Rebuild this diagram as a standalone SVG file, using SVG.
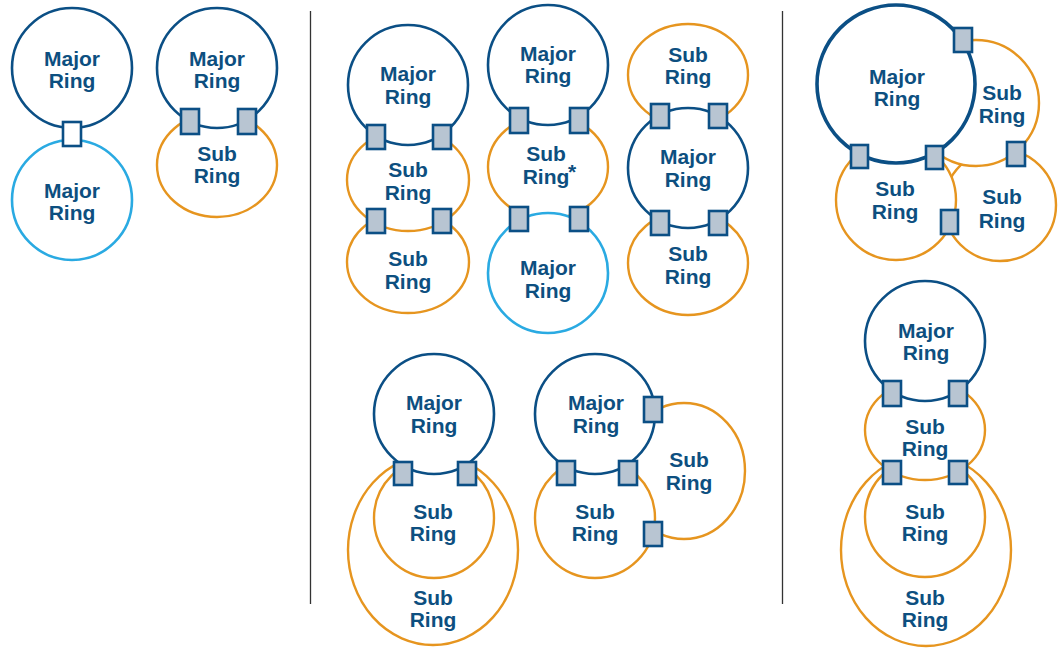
<svg xmlns="http://www.w3.org/2000/svg" width="1063" height="648" viewBox="0 0 1063 648">
<style>
.maj{fill:#fff;stroke:#0b4f85;stroke-width:2.6}
.majb{fill:#fff;stroke:#0b4f85;stroke-width:3.6}
.lt{fill:#fff;stroke:#2aaae2;stroke-width:2.6}
.sub{fill:#fff;stroke:#e6951f;stroke-width:2.4}
.port{fill:#b8c5d2;stroke:#0b4f85;stroke-width:2.6}
.port0{fill:#fff;stroke:#0b4f85;stroke-width:2.6}
.div{stroke:#333;stroke-width:1.3}
text{font-family:"Liberation Sans",Arial,Helvetica,sans-serif;font-weight:bold;font-size:21px;fill:#0d4f80;text-anchor:middle}
</style>
<rect width="1063" height="648" fill="#fff"/>
<g id="dividers">
<line class="div" x1="310.5" y1="11" x2="310.5" y2="604"/>
<line class="div" x1="782.5" y1="11" x2="782.5" y2="604"/>
</g>

<!-- Panel 1, pair A -->
<g id="p1a-major-top"><circle class="maj" cx="72" cy="68" r="60"/><text><tspan x="72" y="66">Major</tspan><tspan x="72" y="88">Ring</tspan></text></g>
<g id="p1a-major-bottom"><circle class="lt" cx="72" cy="200" r="60"/><text><tspan x="72" y="198">Major</tspan><tspan x="72" y="220">Ring</tspan></text></g>

<!-- Panel 1, pair B -->
<g id="p1b-sub"><ellipse class="sub" cx="217" cy="165" rx="60" ry="52"/><text><tspan x="217" y="161">Sub</tspan><tspan x="217" y="183">Ring</tspan></text></g>
<g id="p1b-major"><circle class="maj" cx="217" cy="68" r="60"/><text><tspan x="217" y="66">Major</tspan><tspan x="217" y="88">Ring</tspan></text></g>

<!-- Panel 2, column 1 -->
<g id="p2c1-sub2"><ellipse class="sub" cx="408" cy="262" rx="61" ry="51"/><text><tspan x="408" y="266">Sub</tspan><tspan x="408" y="289">Ring</tspan></text></g>
<g id="p2c1-sub1"><ellipse class="sub" cx="408" cy="180" rx="61" ry="51"/><text><tspan x="408" y="177">Sub</tspan><tspan x="408" y="200">Ring</tspan></text></g>
<g id="p2c1-major"><circle class="maj" cx="408" cy="85" r="60"/><text><tspan x="408" y="81">Major</tspan><tspan x="408" y="104">Ring</tspan></text></g>

<!-- Panel 2, column 2 -->
<g id="p2c2-sub"><ellipse class="sub" cx="548" cy="167" rx="60" ry="52"/><text><tspan x="546" y="161">Sub</tspan><tspan x="546" y="184">Ring</tspan><tspan x="572" y="179">*</tspan></text></g>
<g id="p2c2-major-bottom"><circle class="lt" cx="548" cy="273" r="60"/><text><tspan x="548" y="275">Major</tspan><tspan x="548" y="298">Ring</tspan></text></g>
<g id="p2c2-major-top"><circle class="maj" cx="548" cy="65" r="60"/><text><tspan x="548" y="61">Major</tspan><tspan x="548" y="83">Ring</tspan></text></g>

<!-- Panel 2, column 3 -->
<g id="p2c3-sub-top"><ellipse class="sub" cx="688" cy="75" rx="60" ry="51"/><text><tspan x="688" y="62">Sub</tspan><tspan x="688" y="84">Ring</tspan></text></g>
<g id="p2c3-sub-bottom"><ellipse class="sub" cx="688" cy="263" rx="60" ry="52"/><text><tspan x="688" y="261">Sub</tspan><tspan x="688" y="284">Ring</tspan></text></g>
<g id="p2c3-major"><circle class="maj" cx="688" cy="168" r="60"/><text><tspan x="688" y="164">Major</tspan><tspan x="688" y="187">Ring</tspan></text></g>

<!-- Panel 2 bottom, left -->
<g id="p2bl-sub-outer"><ellipse class="sub" cx="433" cy="550" rx="85" ry="95"/><text><tspan x="433" y="605">Sub</tspan><tspan x="433" y="627">Ring</tspan></text></g>
<g id="p2bl-sub-inner"><circle class="sub" cx="434" cy="518" r="60"/><text><tspan x="433" y="519">Sub</tspan><tspan x="433" y="541">Ring</tspan></text></g>
<g id="p2bl-major"><circle class="maj" cx="434" cy="414" r="60"/><text><tspan x="434" y="410">Major</tspan><tspan x="434" y="433">Ring</tspan></text></g>

<!-- Panel 2 bottom, right -->
<g id="p2br-sub-right"><ellipse class="sub" cx="684" cy="471" rx="61" ry="68"/><text><tspan x="689" y="467">Sub</tspan><tspan x="689" y="490">Ring</tspan></text></g>
<g id="p2br-sub-bottom"><circle class="sub" cx="595" cy="518" r="60"/><text><tspan x="595" y="519">Sub</tspan><tspan x="595" y="541">Ring</tspan></text></g>
<g id="p2br-major"><circle class="maj" cx="595" cy="414" r="60"/><text><tspan x="596" y="410">Major</tspan><tspan x="596" y="433">Ring</tspan></text></g>

<!-- Panel 3 top -->
<g id="p3t-sub-br"><circle class="sub" cx="1000" cy="205" r="56"/><text><tspan x="1002" y="204">Sub</tspan><tspan x="1002" y="228">Ring</tspan></text></g>
<g id="p3t-sub-tr"><circle class="sub" cx="976" cy="103" r="63"/><text><tspan x="1002" y="100">Sub</tspan><tspan x="1002" y="123">Ring</tspan></text></g>
<g id="p3t-sub-bl"><circle class="sub" cx="896" cy="200" r="60"/><text><tspan x="895" y="196">Sub</tspan><tspan x="895" y="219">Ring</tspan></text></g>
<g id="p3t-major"><circle class="majb" cx="896" cy="84" r="79"/><text><tspan x="897" y="84">Major</tspan><tspan x="897" y="106">Ring</tspan></text></g>

<!-- Panel 3 bottom -->
<g id="p3b-sub-outer"><ellipse class="sub" cx="926" cy="550" rx="85" ry="96"/><text><tspan x="925" y="605">Sub</tspan><tspan x="925" y="627">Ring</tspan></text></g>
<g id="p3b-sub-inner"><circle class="sub" cx="925" cy="517" r="60"/><text><tspan x="925" y="519">Sub</tspan><tspan x="925" y="541">Ring</tspan></text></g>
<g id="p3b-sub-top"><ellipse class="sub" cx="925" cy="430" rx="60" ry="50"/><text><tspan x="925" y="434">Sub</tspan><tspan x="925" y="456">Ring</tspan></text></g>
<g id="p3b-major"><circle class="maj" cx="925" cy="341" r="60"/><text><tspan x="926" y="338">Major</tspan><tspan x="926" y="360">Ring</tspan></text></g>

<g id="connectors">
<rect class="port0" x="63" y="122" width="18" height="24"/>
<rect class="port" x="181" y="109" width="18" height="25"/>
<rect class="port" x="238" y="109" width="18" height="25"/>

<rect class="port" x="367" y="125" width="18" height="24"/>
<rect class="port" x="433" y="125" width="18" height="24"/>
<rect class="port" x="367" y="209" width="18" height="24"/>
<rect class="port" x="433" y="209" width="18" height="24"/>

<rect class="port" x="510" y="108" width="18" height="25"/>
<rect class="port" x="570" y="108" width="18" height="25"/>
<rect class="port" x="510" y="207" width="18" height="24"/>
<rect class="port" x="570" y="207" width="18" height="24"/>

<rect class="port" x="651" y="104" width="18" height="24"/>
<rect class="port" x="709" y="104" width="18" height="24"/>
<rect class="port" x="651" y="211" width="18" height="24"/>
<rect class="port" x="709" y="211" width="18" height="24"/>

<rect class="port" x="394" y="462" width="18" height="23"/>
<rect class="port" x="458" y="462" width="18" height="23"/>

<rect class="port" x="557" y="461" width="18" height="24"/>
<rect class="port" x="619" y="461" width="18" height="24"/>
<rect class="port" x="644" y="397" width="18" height="25"/>
<rect class="port" x="644" y="522" width="18" height="24"/>

<rect class="port" x="954" y="28" width="18" height="24"/>
<rect class="port" x="851" y="145" width="17" height="23"/>
<rect class="port" x="926" y="146" width="17" height="23"/>
<rect class="port" x="1007" y="142" width="18" height="24"/>
<rect class="port" x="941" y="210" width="17" height="24"/>

<rect class="port" x="883" y="381" width="18" height="25"/>
<rect class="port" x="949" y="381" width="18" height="25"/>
<rect class="port" x="883" y="461" width="18" height="23"/>
<rect class="port" x="949" y="461" width="18" height="23"/>
</g>
</svg>
